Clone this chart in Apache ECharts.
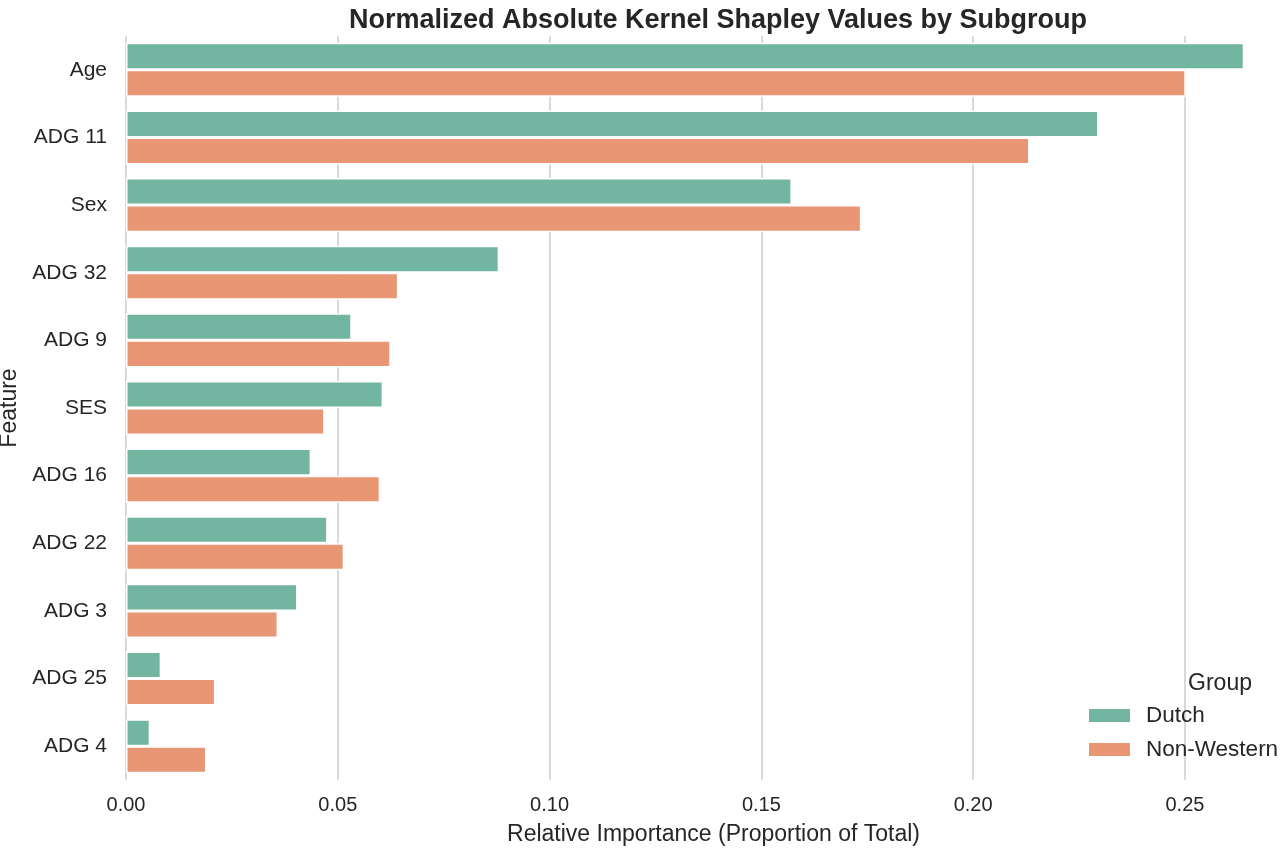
<!DOCTYPE html>
<html>
<head>
<meta charset="utf-8">
<script src="https://cdn.jsdelivr.net/npm/echarts@6/dist/echarts.min.js"></script>
<style>
html,body{margin:0;padding:0;background:#fff;}
#chart{width:1280px;height:852px;}
</style>
</head>
<body>
<div id="chart"></div>
<script>
const categories = ['Age','ADG 11','Sex','ADG 32','ADG 9','SES','ADG 16','ADG 22','ADG 3','ADG 25','ADG 4'];
const dutch = [0.2640, 0.2296, 0.1572, 0.0881, 0.0533, 0.0607, 0.0437, 0.0476, 0.0405, 0.0083, 0.0057];
const nonWestern = [0.2502, 0.2133, 0.1736, 0.0643, 0.0625, 0.0469, 0.0600, 0.0515, 0.0359, 0.0211, 0.0190];
const xTicks = ['0.00','0.05','0.10','0.15','0.20','0.25'];
const groupNames = ['Dutch','Non-Western'];

const FONT = '"Liberation Sans", Arial, sans-serif';
const TEXT = '#262626';
const chart = echarts.init(document.getElementById('chart'), null, {renderer:'canvas'});
chart.setOption({
  backgroundColor:'#ffffff',
  animation:false,
  title:[{
    text:'Normalized Absolute Kernel Shapley Values by Subgroup',
    left:713, textAlign:'center', top:2,
    textStyle:{fontFamily:FONT, fontWeight:'bold', fontSize:27, color:TEXT}
  },{
    text:'Group',
    left:1215, textAlign:'center', top:667,
    textStyle:{fontFamily:FONT, fontWeight:'normal', fontSize:23, color:TEXT}
  }],
  legend:{
    data:groupNames,
    orient:'vertical',
    left:1082, top:699,
    icon:'rect',
    itemWidth:43, itemHeight:15,
    itemGap:11,
    textStyle:{fontFamily:FONT, fontSize:22.5, color:TEXT, padding:[0,0,0,10]}
  },
  grid:{left:126, right:-21, top:36, bottom:72, containLabel:false, outerBoundsMode:'none'},
  xAxis:{
    type:'value', min:0, max:0.2774, interval:0.05,
    name:'Relative Importance (Proportion of Total)',
    nameLocation:'middle', nameGap:43, nameMoveOverlap:false,
    nameTextStyle:{fontFamily:FONT, fontSize:23, color:TEXT},
    axisLine:{show:false}, axisTick:{show:false},
    axisLabel:{fontFamily:FONT, fontSize:20, color:TEXT, margin:15, showMaxLabel:false,
      formatter:function(v){ const i = Math.round(v/0.05); return Math.abs(v - i*0.05) < 1e-9 ? xTicks[i] : ''; }},
    splitLine:{show:true, lineStyle:{color:'#cccccc', width:1.5}}
  },
  yAxis:{
    type:'category', data:categories, inverse:true,
    name:'Feature', nameLocation:'middle', nameGap:105, nameRotate:90, nameMoveOverlap:false,
    nameTextStyle:{fontFamily:FONT, fontSize:23, color:TEXT},
    axisLine:{show:false}, axisTick:{show:false},
    axisLabel:{fontFamily:FONT, fontSize:21, color:TEXT, margin:19},
    splitLine:{show:false}
  },
  series:[{
    name:groupNames[0], type:'bar', data:dutch,
    barWidth:'40%', barGap:'0%',
    itemStyle:{color:'#72b6a1', borderColor:'#ffffff', borderWidth:1.5}
  },{
    name:groupNames[1], type:'bar', data:nonWestern,
    barWidth:'40%', barGap:'0%',
    itemStyle:{color:'#e99675', borderColor:'#ffffff', borderWidth:1.5}
  }]
});
</script>
</body>
</html>
